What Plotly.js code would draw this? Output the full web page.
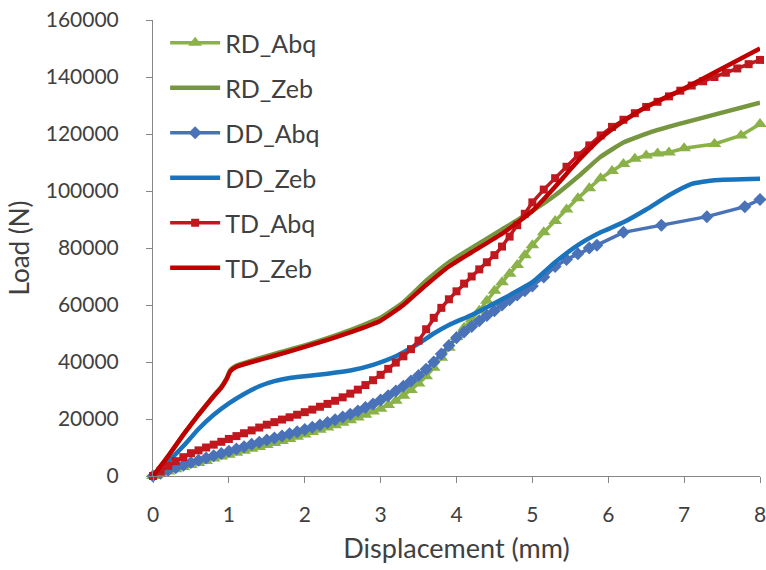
<!DOCTYPE html>
<html>
<head>
<meta charset="utf-8">
<script src="https://cdn.plot.ly/plotly-3.0.1.min.js"></script>
<style>html,body{margin:0;padding:0;background:#fff;}#chart{width:766px;height:570px;}</style>
</head>
<body>
<div id="chart"></div>
<script>
// ---- data ----
const seriesNames = ["RD_Abq", "RD_Zeb", "DD_Abq", "DD_Zeb", "TD_Abq", "TD_Zeb"];

const rdAbqX = [0,0.1,0.2,0.3,0.4,0.5,0.6,0.7,0.8,0.9,1.0,1.1,1.2,1.3,1.4,1.5,1.6,1.7,1.8,1.9,2.0,2.1,2.2,2.3,2.4,2.5,2.6,2.7,2.8,2.9,3.0,3.1,3.2,3.3,3.4,3.5,3.6,3.7,3.8,3.9,4.0,4.1,4.2,4.3,4.4,4.5,4.6,4.7,4.8,4.9,5.0,5.15,5.3,5.45,5.6,5.75,5.9,6.05,6.2,6.35,6.5,6.65,6.8,7.0,7.4,7.75,8.0];
const rdAbqY = [0,800,1600,2400,3200,3900,4600,5300,6100,6800,7500,8200,8900,9600,10200,10900,11600,12300,13000,13800,14600,15400,16200,17000,17800,18700,19600,20500,21500,22600,23600,24900,26400,28200,30200,32500,35000,38000,41500,45000,48800,52000,55000,58000,61500,65000,68000,71000,74000,77500,81000,85500,89500,93500,97500,101000,104500,107000,109500,111300,112500,113200,113500,115000,116500,119500,123500];

const rdZebX = [0,0.2,0.4,0.6,0.8,0.9,0.97,1.02,1.1,1.3,1.6,2.0,2.5,3.0,3.3,3.6,3.9,4.2,4.6,5.0,5.3,5.6,5.9,6.2,6.6,7.0,7.5,8.0];
const rdZebY = [0,7000,14500,21500,28200,31300,34300,37200,38800,40500,42800,45800,50200,55500,61000,68500,75000,80000,86500,93000,98500,105000,112000,117000,121000,124000,127500,131000];

const ddAbqX = [0,0.1,0.2,0.3,0.4,0.5,0.6,0.7,0.8,0.9,1.0,1.1,1.2,1.3,1.4,1.5,1.6,1.7,1.8,1.9,2.0,2.1,2.2,2.3,2.4,2.5,2.6,2.7,2.8,2.9,3.0,3.1,3.2,3.3,3.4,3.5,3.6,3.7,3.8,3.9,4.0,4.1,4.2,4.3,4.4,4.5,4.6,4.7,4.8,4.9,5.0,5.15,5.3,5.45,5.6,5.75,5.85,6.2,6.7,7.3,7.8,8.0];
const ddAbqY = [0,1000,2000,2900,3800,4700,5500,6300,7100,7900,8700,9500,10300,11100,11800,12600,13300,14000,14800,15500,16300,17100,17900,18800,19700,20700,21700,22800,24000,25300,26700,28200,29800,31500,33300,35300,37500,40000,42800,45800,48500,50500,52500,54500,56300,58000,60000,61800,63500,65000,66700,69800,73500,76000,78000,80000,81000,85500,88000,91000,94500,97000];

const ddZebX = [0,0.2,0.4,0.6,0.8,1.0,1.2,1.4,1.6,1.8,2.0,2.3,2.6,2.9,3.2,3.5,3.7,3.9,4.2,4.6,5.0,5.3,5.6,5.9,6.2,6.5,6.8,7.1,7.4,8.0];
const ddZebY = [0,5000,10500,16500,21500,25500,28800,31500,33300,34400,35000,35900,37000,39000,42000,46500,50000,53000,56500,62000,68000,75000,81000,85500,89000,93500,98500,102500,103800,104300];

const tdAbqX = [0,0.1,0.2,0.3,0.4,0.5,0.6,0.7,0.8,0.9,1.0,1.1,1.2,1.3,1.4,1.5,1.6,1.7,1.8,1.9,2.0,2.1,2.2,2.3,2.4,2.5,2.6,2.7,2.8,2.9,3.0,3.1,3.2,3.3,3.4,3.5,3.6,3.7,3.8,3.9,4.0,4.1,4.2,4.3,4.4,4.5,4.6,4.7,4.8,4.9,5.0,5.15,5.3,5.45,5.6,5.75,5.9,6.05,6.2,6.35,6.5,6.65,6.8,6.95,7.1,7.25,7.4,7.55,7.7,7.85,8.0];
const tdAbqY = [0,1800,3600,5200,6600,8000,9000,10000,11000,12000,13000,14000,15000,16000,17000,18000,18900,19800,20600,21500,22400,23300,24300,25300,26400,27600,28900,30300,31900,33600,35500,37600,39800,42000,44500,47500,51500,55500,59000,62000,64800,67500,70000,72500,75000,77500,80500,84000,88000,92000,96000,100500,104500,108500,112500,116000,119500,122500,125000,127300,129500,131300,133200,135200,137000,138500,140000,141500,143000,144500,146000];

const tdZebX = [0,0.2,0.4,0.6,0.8,0.9,0.97,1.02,1.1,1.3,1.6,2.0,2.5,3.0,3.3,3.6,3.9,4.2,4.6,5.0,5.3,5.6,5.9,6.2,6.5,7.0,7.5,8.0];
const tdZebY = [0,7000,14500,21500,28000,31000,34000,36800,38300,40000,42200,45300,49500,54500,60000,67000,73500,78500,85000,93000,101500,110500,118500,124500,129500,136000,143000,150000];

const xTickVals = [0,1,2,3,4,5,6,7,8];
const yTickVals = [0,20000,40000,60000,80000,100000,120000,140000,160000];

// ---- styles ----
const colors = {RD_Abq:"#8AB248", RD_Zeb:"#76963F", DD_Abq:"#4A72B8", DD_Zeb:"#1A74BD", TD_Abq:"#C0181E", TD_Zeb:"#C00000"};
const FONT = "Lato, 'Open Sans', sans-serif";

function abq(name, xs, ys, symbol, size){
  return {type:"scatter", mode:"lines+markers", name:name, x:xs, y:ys, legendgroup:name,
    line:{color:colors[name], width:3.5},
    marker:{symbol:symbol, size:size, color:colors[name]}, cliponaxis:false};
}
function zeb(name, xs, ys){
  return {type:"scatter", mode:"lines", name:name, x:xs, y:ys, legendgroup:name,
    line:{color:colors[name], width:4.5, shape:"spline", smoothing:0.4}, cliponaxis:false};
}

const data = [
  abq("RD_Abq", rdAbqX, rdAbqY, "triangle-up", 12),
  zeb("RD_Zeb", rdZebX, rdZebY),
  abq("DD_Abq", ddAbqX, ddAbqY, "diamond", 10),
  zeb("DD_Zeb", ddZebX, ddZebY),
  abq("TD_Abq", tdAbqX, tdAbqY, "square", 8),
  zeb("TD_Zeb", tdZebX, tdZebY)
];

const layout = {
  width:766, height:570,
  margin:{l:153, r:6, t:20, b:94, pad:0},
  paper_bgcolor:"#ffffff", plot_bgcolor:"#ffffff",
  font:{family:FONT, color:"#404040", size:21},
  showlegend:true,
  legend:{x:0.02, y:1.0, xanchor:"left", yanchor:"top", bgcolor:"rgba(0,0,0,0)",
    font:{family:FONT, size:25, color:"#404040"}, tracegroupgap:9.5, itemwidth:50},
  xaxis:{range:[0,8], tickvals:xTickVals, ticktext:xTickVals.map(String), showgrid:false, zeroline:false,
    showline:true, linecolor:"#868686", linewidth:1, ticks:"outside", ticklen:6, tickcolor:"#868686",
    ticklabelstandoff:14, ticklabeloverflow:"allow",
    tickfont:{family:FONT, size:21, color:"#404040"},
    title:{text:"Displacement (mm)", font:{family:FONT, size:27, color:"#404040"}, standoff:13}},
  yaxis:{range:[0,160000], tickvals:yTickVals, ticktext:yTickVals.map(String), showgrid:false, zeroline:false,
    showline:true, linecolor:"#868686", linewidth:1, ticks:"outside", ticklen:6, tickcolor:"#868686",
    ticklabelstandoff:23,
    tickfont:{family:FONT, size:21, color:"#404040"},
    title:{text:"Load (N)", font:{family:FONT, size:26, color:"#404040"}, standoff:8}}
};

Plotly.newPlot("chart", data, layout, {staticPlot:true, displayModeBar:false});
</script>
</body>
</html>
